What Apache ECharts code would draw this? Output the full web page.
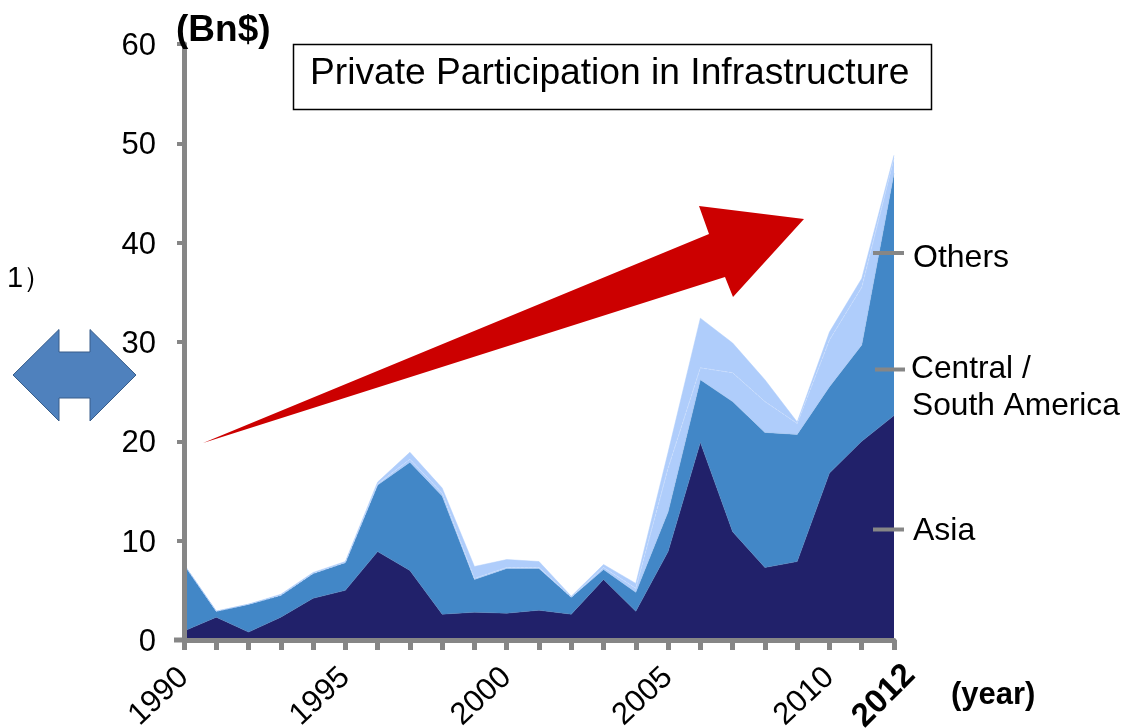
<!DOCTYPE html>
<html>
<head>
<meta charset="utf-8">
<title>Private Participation in Infrastructure</title>
<script src="https://cdn.jsdelivr.net/npm/echarts@6/dist/echarts.min.js"></script>
<style>
  html, body { margin: 0; padding: 0; background: #fff; }
  #chart { width: 1136px; height: 728px; }
</style>
</head>
<body>
<div id="chart"></div>
<script>
var years = ['1990', '1991', '1992', '1993', '1994', '1995', '1996', '1997', '1998', '1999', '2000', '2001',
  '2002', '2003', '2004', '2005', '2006', '2007', '2008', '2009', '2010', '2011', '2012']
var labelledYears = ['1990', '1995', '2000', '2005', '2010']
var lastYear = '2012'

// Bn$ per layer
var asia = [0.9, 2.3, 0.8, 2.3, 4.2, 5.0, 8.9, 7.0, 2.6, 2.8, 2.7, 3.0, 2.6, 6.1, 2.9, 8.9, 19.9, 10.9, 7.3, 7.9, 16.8, 20.0, 22.6]
var centralSouthAmerica = [6.7, 0.6, 2.8, 2.2, 2.5, 2.8, 6.7, 10.9, 11.9, 3.3, 4.5, 4.2, 1.7, 1.0, 1.9, 4.0, 6.3, 13.1, 13.6, 12.8, 8.7, 9.7, 24.4]
var othersLower = [0, 0, 0, 0, 0, 0, 0.1, 0.3, 0.3, 0.1, 0.1, 0.1, 0, 0.2, 0.4, 4.4, 1.2, 2.9, 3.1, 1.1, 4.7, 5.8, 1.5]
var othersUpper = [0, 0, 0, 0.1, 0.1, 0.1, 0.2, 0.7, 0.5, 1.2, 0.8, 0.6, 0.1, 0.3, 0.5, 1.6, 5.0, 3.0, 2.2, 0.15, 0.8, 0.9, 0.3]

var FONT = '"Liberation Sans", Arial, sans-serif'
var GREY = '#868686'

function areaSeries(name, values, color, line) {
  return {
    name: name,
    type: 'line',
    stack: 'total',
    data: values,
    symbol: 'none',
    smooth: false,
    areaStyle: { color: color, opacity: 1 },
    lineStyle: line
  }
}

function label(text, x, y, size, weight) {
  return {
    type: 'text',
    x: x,
    y: y,
    z: 20,
    style: {
      text: text,
      fill: '#000',
      font: (weight || 'normal') + ' ' + size + 'px ' + FONT,
      textVerticalAlign: 'middle'
    }
  }
}

function leader(x1, x2, y) {
  return {
    type: 'line',
    z: 20,
    shape: { x1: x1, y1: y, x2: x2, y2: y },
    style: { stroke: GREY, lineWidth: 4 }
  }
}

var chart = echarts.init(document.getElementById('chart'), null, { renderer: 'canvas' })

chart.setOption({
  animation: false,
  backgroundColor: '#fff',
  textStyle: { fontFamily: FONT },
  grid: { left: 184, right: 242, top: 44, bottom: 88, outerBoundsMode: 'none' },
  xAxis: {
    type: 'category',
    data: years,
    boundaryGap: false,
    z: 5,
    axisLine: { lineStyle: { color: GREY, width: 5 } },
    axisTick: { interval: 0, length: 10, lineStyle: { color: GREY, width: 5 } },
    axisLabel: {
      rotate: 43,
      margin: 33,
      color: '#000',
      fontSize: 31,
      interval: function (index, value) {
        return labelledYears.indexOf(value) >= 0
      }
    }
  },
  yAxis: {
    type: 'value',
    min: 0,
    max: 60,
    interval: 10,
    z: 5,
    splitLine: { show: false },
    axisLine: { show: true, lineStyle: { color: GREY, width: 5 } },
    axisTick: { show: true, length: 7, lineStyle: { color: GREY, width: 4 } },
    axisLabel: {
      margin: 28,
      formatter: function (value) {
        return '{v|' + value + '}'
      },
      // top padding nudges the numbers a little below their ticks
      rich: { v: { color: '#000', fontSize: 31, fontFamily: FONT, padding: [5, 0, 0, 0] } }
    }
  },
  series: [
    areaSeries('Asia', asia, '#21216a', { color: '#4f7fb8', width: 0.5 }),
    areaSeries('Central / South America', centralSouthAmerica, '#4287c7', { color: '#9cc0ea', width: 0.5 }),
    areaSeries('Others (lower)', othersLower, '#afcdfb', { color: '#cfe0fc', width: 0.7, type: 'dashed' }),
    areaSeries('Others', othersUpper, '#afcdfb', { color: '#afcdfb', width: 0.5 })
  ],
  graphic: [
    // title box
    {
      type: 'rect',
      z: 20,
      shape: { x: 293.5, y: 44.5, width: 638, height: 65 },
      style: { fill: '#fff', stroke: '#000', lineWidth: 1.5 }
    },
    label('Private Participation in Infrastructure', 310, 74, 37.2),
    label('(Bn$)', 176, 31, 37, 'bold'),
    label('(year)', 951, 695, 31, 'bold'),
    label('1\uff09', 7, 279, 29),
    label('Others', 913, 258, 32),
    label('Central /', 911, 369, 31.7),
    label('South America', 912, 406, 31.7),
    label('Asia', 913, 531, 32),
    leader(873, 904, 253),
    leader(875, 905, 369.5),
    leader(873, 904, 529.5),
    // the 2012 label is bolder and sits further right than the axis would put it
    {
      type: 'text',
      x: 884,
      y: 696,
      z: 20,
      rotation: Math.PI / 4,
      style: {
        text: lastYear,
        fill: '#000',
        font: 'bold 33px ' + FONT,
        textAlign: 'center',
        textVerticalAlign: 'middle'
      }
    },
    // long tick at the origin
    {
      type: 'line',
      z: 20,
      shape: { x1: 174, y1: 640, x2: 184, y2: 640 },
      style: { stroke: GREY, lineWidth: 5 }
    },
    // red trend arrow
    {
      type: 'polygon',
      z: 15,
      shape: { points: [[203, 443], [709, 234], [699, 206], [804, 219], [733, 297], [725, 277]] },
      style: { fill: '#cc0000' }
    },
    // blue double arrow on the left
    {
      type: 'polygon',
      z: 15,
      shape: {
        points: [[13, 375], [59, 329.5], [59, 352], [90, 352], [90, 329.5], [136, 375],
          [90, 421], [90, 398], [59, 398], [59, 421]]
      },
      style: { fill: '#4f81bd', stroke: '#385d8a', lineWidth: 1 }
    }
  ]
})
</script>
</body>
</html>
